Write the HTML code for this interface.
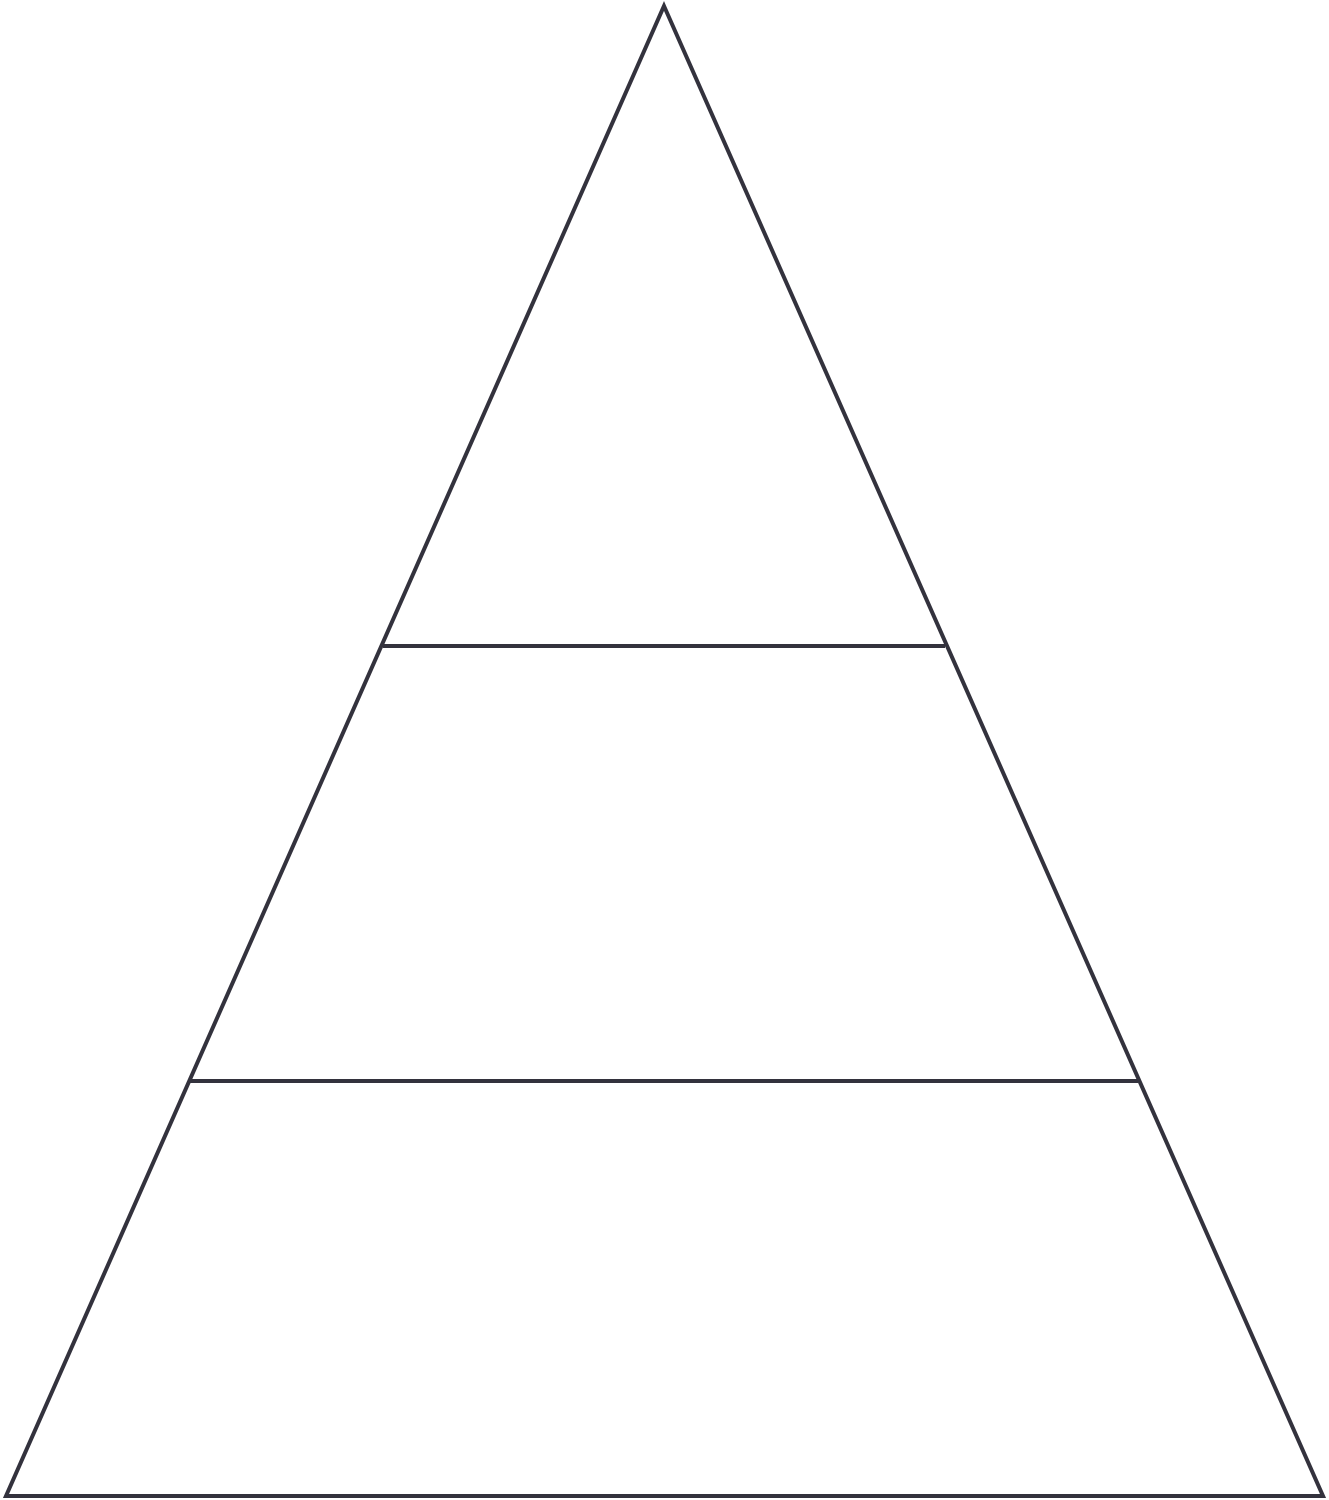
<!DOCTYPE html>
<html><head><style>html,body{margin:0;padding:0;background:#fff;}svg{display:block}</style></head>
<body>
<svg width="1329" height="1500" viewBox="0 0 1329 1500" xmlns="http://www.w3.org/2000/svg">
<g fill="none" stroke="#33323d" stroke-width="4" stroke-linejoin="miter">
<polygon points="664,6 1323,1496 6,1496"/>
<line x1="383" y1="646" x2="945" y2="646"/>
<line x1="190" y1="1081" x2="1138" y2="1081"/>
</g>
</svg>
</body></html>
